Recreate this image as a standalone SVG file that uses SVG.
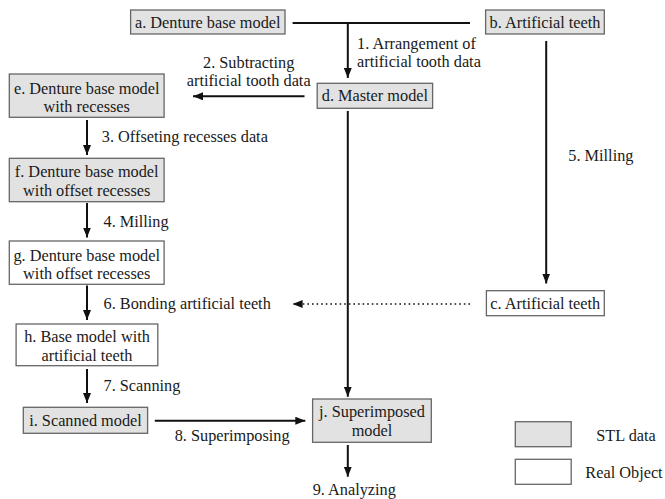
<svg xmlns="http://www.w3.org/2000/svg" width="665" height="499" viewBox="0 0 665 499" font-family="'Liberation Serif', 'Times New Roman', 'DejaVu Serif', serif">
<defs>
<marker id="ah" markerUnits="userSpaceOnUse" markerWidth="11" markerHeight="8" refX="10" refY="4" orient="auto">
<path d="M0,0 L10,4 L0,8 z" fill="#111"/>
</marker>
<style>
.stl{fill:#e2e2e2;stroke:#666;stroke-width:1.3}
.real{fill:#fff;stroke:#666;stroke-width:1.3}
text{font-family:'Liberation Serif','Times New Roman','DejaVu Serif',serif;font-size:16.3px;fill:#1a1a1a}
.c{text-anchor:middle}
.ln{stroke:#111;stroke-width:2;fill:none}
.ar{stroke:#111;stroke-width:2;fill:none;marker-end:url(#ah)}
.dot{stroke:#111;stroke-width:1.6;fill:none;stroke-dasharray:1.6 3;marker-end:url(#ah)}
</style>
</defs>
<rect width="665" height="499" fill="#fff"/>

<g id="connectors">
<line class="ln" x1="292.6" y1="23" x2="470" y2="23"/>
<line class="ar" x1="347.8" y1="23" x2="347.8" y2="78"/>
<line class="ar" x1="304.5" y1="96.3" x2="193" y2="96.3"/>
<line class="ar" x1="87" y1="120" x2="87" y2="155"/>
<line class="ar" x1="87" y1="203" x2="87" y2="237.5"/>
<line class="ar" x1="87" y1="285.5" x2="87" y2="320"/>
<line class="ar" x1="87" y1="369" x2="87" y2="403"/>
<line class="ar" x1="546.2" y1="41" x2="546.2" y2="283.5"/>
<line class="ar" x1="347.8" y1="111" x2="347.8" y2="396.7"/>
<line class="ar" x1="154.8" y1="420.7" x2="305.3" y2="420.7"/>
<line class="ar" x1="347.8" y1="445" x2="347.8" y2="476.7"/>
<line class="dot" x1="470" y1="304" x2="292.6" y2="304"/>
</g>

<g id="labels">
<text x="357" y="48.5">1. Arrangement of</text>
<text x="357" y="66.7">artificial tooth data</text>
<text class="c" x="248.7" y="68.3">2. Subtracting</text>
<text class="c" x="248.7" y="86.3">artificial tooth data</text>
<text x="101.8" y="142">3. Offseting recesses data</text>
<text x="103.5" y="227">4. Milling</text>
<text x="568.3" y="160.5">5. Milling</text>
<text x="103.5" y="309">6. Bonding artificial teeth</text>
<text x="103.5" y="390.5">7. Scanning</text>
<text x="174.7" y="441">8. Superimposing</text>
<text class="c" x="354.3" y="495">9. Analyzing</text>
</g>

<g id="node-a">
<rect class="stl" x="130.6" y="10" width="154.4" height="24"/>
<text class="c" x="207.8" y="27.5">a. Denture base model</text>
</g>
<g id="node-b">
<rect class="stl" x="485.6" y="10" width="118.7" height="24"/>
<text class="c" x="545" y="27.5">b. Artificial teeth</text>
</g>
<g id="node-d">
<rect class="stl" x="317.2" y="83.3" width="115.4" height="25"/>
<text class="c" x="374.9" y="101.3">d. Master model</text>
</g>
<g id="node-e">
<rect class="stl" x="9.3" y="74" width="154.8" height="43.3"/>
<text class="c" x="86.7" y="94">e. Denture base model</text>
<text class="c" x="86.7" y="112.3">with recesses</text>
</g>
<g id="node-f">
<rect class="stl" x="9.3" y="158.3" width="154.8" height="43.4"/>
<text class="c" x="86.7" y="177.3">f. Denture base model</text>
<text class="c" x="86.7" y="195.7">with offset recesses</text>
</g>
<g id="node-g">
<rect class="real" x="9.3" y="241" width="154.8" height="43.3"/>
<text class="c" x="86.7" y="260.5">g. Denture base model</text>
<text class="c" x="86.7" y="279">with offset recesses</text>
</g>
<g id="node-c">
<rect class="real" x="486.4" y="290.7" width="117.9" height="25"/>
<text class="c" x="545.3" y="308.7">c. Artificial teeth</text>
</g>
<g id="node-h">
<rect class="real" x="16.1" y="324" width="141.7" height="41.7"/>
<text class="c" x="87" y="341.7">h. Base model with</text>
<text class="c" x="87" y="360.5">artificial teeth</text>
</g>
<g id="node-i">
<rect class="stl" x="23.3" y="407.3" width="124.3" height="26"/>
<text class="c" x="85.5" y="425.7">i. Scanned model</text>
</g>
<g id="node-j">
<rect class="stl" x="312.6" y="399" width="118.7" height="43.3"/>
<text class="c" x="372" y="417.3">j. Superimposed</text>
<text class="c" x="372" y="435.7">model</text>
</g>

<g id="legend">
<rect class="stl" x="515.3" y="421.7" width="55.9" height="25"/>
<rect class="real" x="515.3" y="459.3" width="55.9" height="25"/>
<text class="c" x="626" y="440.5">STL data</text>
<text class="c" x="624" y="477.5">Real Object</text>
</g>
</svg>
